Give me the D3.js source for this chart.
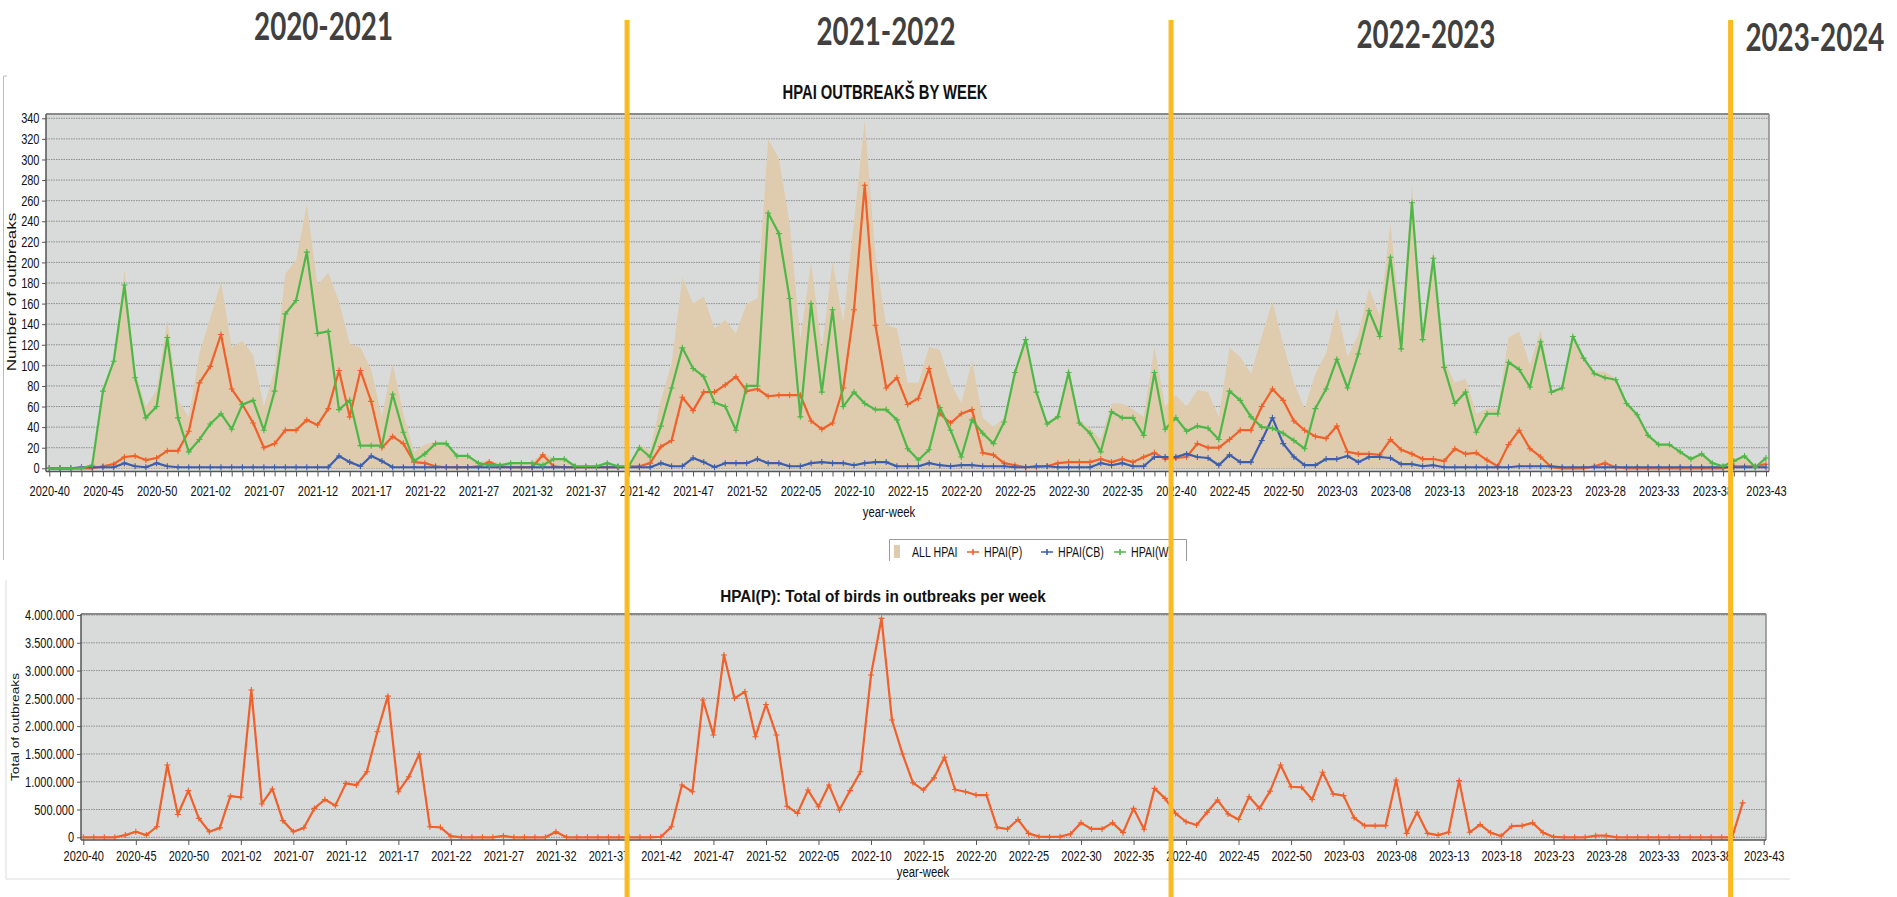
<!DOCTYPE html>
<html>
<head>
<meta charset="utf-8">
<title>HPAI outbreaks by week</title>
<script src="https://d3js.org/d3.v7.min.js"></script>
<style>
  body { margin: 0; background: #fff; }
  svg { display: block; }
</style>
</head>
<body>
<svg id="chart" width="1897" height="897"></svg>
<script>
'use strict';

// year, first week, last week (2020 has 53 ISO weeks)
var yearSegments = [[2020, 40, 53], [2021, 1, 52], [2022, 1, 52], [2023, 1, 43]];

var allHpai = [
  0,0,0,0,3,78,105,193,94,60,76,144,66,50,
  112,146,181,117,124,110,60,96,189,202,256,178,190,162,121,117,96,50,102,53,16,23,26,26,13,13,6,8,5,6,6,6,15,10,10,3,3,3,6,3,2,23,17,66,102,185,160,167,136,144,131,160,
  165,320,301,238,125,201,115,201,142,240,338,206,139,136,83,83,118,115,83,63,105,49,40,49,97,127,76,45,53,99,47,39,28,63,63,57,50,118,60,71,60,76,74,50,117,108,92,128,162,121,83,58,
  92,112,156,108,130,175,149,238,134,275,134,215,105,83,87,53,58,58,127,133,100,135,76,79,130,108,94,94,87,65,53,34,24,24,16,10,15,6,3,8,13,2,12
];
var hpaiP = [
  0,0,0,0,0,2,4,11,12,8,10,17,17,36,
  83,99,130,77,62,44,20,24,37,37,47,42,58,95,50,95,65,20,31,24,6,5,2,1,1,1,2,6,2,1,1,1,13,2,1,1,1,1,1,1,2,2,5,21,27,69,56,74,74,81,89,75,
  77,70,71,71,71,46,38,44,78,154,275,139,78,88,62,68,97,53,44,53,57,15,13,5,3,1,1,2,5,6,6,6,9,6,9,6,11,15,9,10,11,24,20,20,28,37,37,60,77,66,46,37,
  31,29,41,16,14,14,13,28,18,14,9,9,7,19,14,15,8,2,23,37,19,11,1,0,0,0,2,5,1,0,0,0,0,0,0,0,0,0,0,2,2,2,4
];
var hpaiCB = [
  0,0,0,1,1,1,1,5,2,1,5,2,1,1,
  1,1,1,1,1,1,1,1,1,1,1,1,1,12,6,2,12,7,1,1,1,1,1,1,1,1,1,1,1,1,1,1,1,1,1,1,1,1,1,1,1,1,1,5,2,2,10,6,1,5,5,5,
  9,5,5,2,2,5,6,5,5,3,5,6,6,2,2,2,5,3,2,3,3,2,2,2,1,1,2,2,1,1,1,1,5,3,5,2,2,11,11,11,14,11,10,3,13,6,6,27,49,24,11,3,
  3,9,9,12,6,11,11,10,4,4,2,3,1,1,1,1,1,1,1,2,2,2,2,1,1,1,1,1,1,1,1,1,1,1,1,1,1,1,1,1,1,1,1
];
var hpaiW = [
  0,0,0,0,3,75,104,178,88,49,60,127,49,16,
  28,43,53,38,62,66,37,75,150,163,210,131,133,57,66,22,22,22,72,35,7,14,24,24,12,12,5,3,3,5,5,5,3,9,9,2,2,2,5,2,2,20,11,41,78,117,97,89,64,60,37,80,
  80,248,228,165,50,160,74,154,60,74,63,57,57,47,19,8,18,59,37,11,47,34,24,45,93,125,74,43,50,93,44,34,16,55,49,49,32,93,38,49,36,41,39,28,75,66,50,40,39,34,27,19,
  58,77,106,78,111,153,128,205,116,258,125,204,98,63,74,35,53,53,103,96,79,123,74,78,128,107,92,88,86,63,52,32,23,23,16,9,14,5,2,7,12,1,10
];
var birdsP = [
  0,0,0,0,40000,100000,40000,190000,1300000,410000,840000,340000,100000,170000,
  740000,720000,2650000,600000,870000,300000,100000,170000,520000,680000,570000,970000,940000,1180000,1900000,2540000,820000,1090000,1500000,190000,180000,20000,0,0,0,0,25000,0,0,0,0,100000,0,0,0,0,0,0,0,0,0,10000,190000,940000,820000,2470000,1840000,3280000,2500000,2620000,1810000,2390000,
  1840000,560000,430000,850000,550000,940000,490000,840000,1180000,2920000,3940000,2110000,1500000,980000,850000,1070000,1440000,860000,820000,760000,760000,180000,150000,320000,70000,12000,6000,12000,60000,260000,150000,150000,260000,84000,520000,144000,880000,700000,430000,280000,220000,450000,670000,420000,320000,730000,520000,830000,1300000,910000,900000,680000,
  1170000,780000,750000,350000,210000,210000,210000,1030000,70000,450000,70000,40000,90000,1020000,90000,230000,84000,24000,200000,210000,260000,84000,6000,0,0,0,30000,30000,0,0,0,0,0,0,0,0,0,0,0,0,620000
];

var outbreakTicks = d3.range(0, 341, 20);
var birdTicks = [0, 500000, 1000000, 1500000, 2000000, 2500000, 3000000, 3500000, 4000000];
var seasonLabels = ['2020-2021', '2021-2022', '2022-2023', '2023-2024'];
// where the labels and the yellow season dividers sit, in top chart week units
var seasonLabelAt = [25.56, 77.98, 128.3, 164.56];
var seasonBreaks = [53.85, 104.55, 156.7];

var weeks = [];
yearSegments.forEach(function (s) {
  for (var w = s[1]; w <= s[2]; w++) weeks.push(s[0] + '-' + (w < 10 ? '0' + w : w));
});

var FONT = '"Liberation Sans", Arial, sans-serif';
var SQ = 0.76; // the source picture is squeezed horizontally
var GRID = '#8d8d8d', PLOT_BG = '#d9dbda', AXIS = '#555';

var series = [
  {name: 'HPAI(P)', values: hpaiP, color: '#f0602a'},
  {name: 'HPAI(CB)', values: hpaiCB, color: '#3b5eae'},
  {name: 'HPAI(W)', values: hpaiW, color: '#4db848'}
];

var svg = d3.select('#chart');
svg.append('rect').attr('width', 1897).attr('height', 897).attr('fill', '#fff');

function label(parent, s, x, y, size, o) {
  o = o || {};
  return parent.append('text')
    .attr('transform', 'translate(' + x + ',' + y + ') scale(' + (o.sx || SQ) + ',1)' + (o.rotate ? ' rotate(' + o.rotate + ')' : ''))
    .attr('text-anchor', o.anchor || 'middle')
    .style('font-family', o.family || FONT)
    .style('font-size', size + 'px')
    .style('font-weight', o.bold ? 'bold' : null)
    .attr('fill', o.color || '#111')
    .text(s);
}

function plusPath(px, py, r) {
  return 'M' + (px - r) + ',' + py + 'H' + (px + r) + 'M' + px + ',' + (py - r) + 'V' + (py + r);
}

function drawSeries(g, values, xs, ys, color, width) {
  g.append('path')
    .datum(values)
    .attr('fill', 'none')
    .attr('stroke', color)
    .attr('stroke-width', width)
    .attr('stroke-linejoin', 'round')
    .attr('d', d3.line().x(function (d, i) { return xs(i); }).y(function (d) { return ys(d); }));
  g.append('path')
    .attr('fill', 'none')
    .attr('stroke', color)
    .attr('stroke-width', 1.1)
    .attr('d', values.map(function (d, i) { return plusPath(xs(i), ys(d), 3); }).join(''));
}

function styleTicks(g) {
  g.select('.domain').remove();
  g.selectAll('.tick line').attr('stroke', AXIS);
  g.selectAll('.tick text')
    .style('font-family', FONT)
    .style('font-size', '14.5px')
    .attr('fill', '#111');
}

function plotFrame(g, box, ys, ticks) {
  g.append('rect')
    .attr('x', box.x0).attr('y', box.y0)
    .attr('width', box.x1 - box.x0).attr('height', box.y1 - box.y0)
    .attr('fill', PLOT_BG);
  g.selectAll('.grid').data(ticks).join('line')
    .attr('class', 'grid')
    .attr('x1', box.x0).attr('x2', box.x1)
    .attr('y1', function (d) { return ys(d); }).attr('y2', function (d) { return ys(d); })
    .attr('stroke', GRID).attr('stroke-width', 1).attr('stroke-dasharray', '1.5,1');
}

function plotBorder(g, box) {
  g.append('line').attr('x1', box.x0).attr('x2', box.x1).attr('y1', box.y0).attr('y2', box.y0)
    .attr('stroke', '#8a8a8a').attr('stroke-width', 2);
  g.append('line').attr('x1', box.x1).attr('x2', box.x1).attr('y1', box.y0).attr('y2', box.y1)
    .attr('stroke', '#8a8a8a').attr('stroke-width', 1.5);
  g.append('line').attr('x1', box.x0).attr('x2', box.x0).attr('y1', box.y0).attr('y2', box.y1)
    .attr('stroke', AXIS).attr('stroke-width', 1.5);
  g.append('line').attr('x1', box.x0).attr('x2', box.x1).attr('y1', box.y1).attr('y2', box.y1)
    .attr('stroke', AXIS).attr('stroke-width', 1.5);
}

// ---------- top chart: outbreaks by week ----------
var topBox = {x0: 46, x1: 1769, y0: 114, y1: 471.5};
var x1 = d3.scaleLinear().domain([0, weeks.length - 1]).range([49.3, 1766]);
var y1 = d3.scaleLinear().domain([0, 340]).range([468.3, 118.3]);
var gTop = svg.append('g');

// outer frame of the top chart
gTop.append('path').attr('d', 'M7,76H3.5V560').attr('fill', 'none').attr('stroke', '#bdbdbd');

plotFrame(gTop, topBox, y1, outbreakTicks);

gTop.append('path')
  .datum(allHpai)
  .attr('fill', '#dfccae')
  .attr('d', d3.area().x(function (d, i) { return x1(i); }).y0(y1(0)).y1(function (d) { return y1(d); }));

series.forEach(function (s) { drawSeries(gTop, s.values, x1, y1, s.color, 2.2); });

plotBorder(gTop, topBox);

var yAxis1 = gTop.append('g').attr('transform', 'translate(' + topBox.x0 + ',0)')
  .call(d3.axisLeft(y1).tickValues(outbreakTicks).tickSize(4).tickPadding(3));
styleTicks(yAxis1);
yAxis1.selectAll('.tick text').attr('x', -6.5 / SQ).attr('transform', 'scale(' + SQ + ',1)');

var xAxis1 = gTop.append('g').attr('transform', 'translate(0,' + topBox.y1 + ')')
  .call(d3.axisBottom(x1).tickValues(d3.range(weeks.length)).tickSize(5).tickPadding(9)
    .tickFormat(function (i) { return i % 5 === 0 ? weeks[i] : ''; }));
styleTicks(xAxis1);
xAxis1.selectAll('.tick text').attr('transform', 'scale(' + SQ + ',1)');

label(gTop, 'HPAI OUTBREAKŠ BY WEEK', 885, 98.5, 19.5, {bold: true});
label(gTop, 'Number of outbreaks', 16, 292, 17, {rotate: -90});
label(gTop, 'year-week', 889, 517, 15);

// legend
var lg = gTop.append('g');
lg.append('path').attr('d', 'M889.5,561V539.5H1186.5V561').attr('fill', 'none').attr('stroke', '#9a9a9a');
lg.append('rect').attr('x', 894).attr('y', 545).attr('width', 6).attr('height', 13).attr('fill', '#dfccae');
label(lg, 'ALL HPAI', 912, 557, 14, {anchor: 'start'});
var legendX = [973, 1047, 1120];
series.forEach(function (s, k) {
  var cx = legendX[k];
  lg.append('path').attr('d', 'M' + (cx - 6) + ',552H' + (cx + 6) + plusPath(cx, 552, 3).replace('M', 'M'))
    .attr('fill', 'none').attr('stroke', s.color).attr('stroke-width', 1.6);
  label(lg, s.name, cx + 11, 557, 14, {anchor: 'start'});
});

// ---------- bottom chart: birds in HPAI(P) outbreaks ----------
var botBox = {x0: 81, x1: 1766, y0: 614, y1: 840};
var x2 = d3.scaleLinear().domain([0, weeks.length - 1]).range([83.3, 1763.7]);
var y2 = d3.scaleLinear().domain([0, 4000000]).range([837.3, 615]);
var gBot = svg.append('g');

gBot.append('path').attr('d', 'M6,580V879H1790').attr('fill', 'none').attr('stroke', '#dcdcdc');

plotFrame(gBot, botBox, y2, birdTicks);
drawSeries(gBot, birdsP, x2, y2, '#f0602a', 2.2);
plotBorder(gBot, botBox);

var yAxis2 = gBot.append('g').attr('transform', 'translate(' + botBox.x0 + ',0)')
  .call(d3.axisLeft(y2).tickValues(birdTicks).tickSize(4).tickPadding(3)
    .tickFormat(function (d) { return d3.format(',')(d).replace(/,/g, '.'); }));
styleTicks(yAxis2);
yAxis2.selectAll('.tick text').attr('x', -7 / SQ).attr('transform', 'scale(' + SQ + ',1)');

var xAxis2 = gBot.append('g').attr('transform', 'translate(0,' + botBox.y1 + ')')
  .call(d3.axisBottom(x2).tickValues(d3.range(0, weeks.length, 5)).tickSize(5).tickPadding(5.6)
    .tickFormat(function (i) { return weeks[i]; }));
styleTicks(xAxis2);
xAxis2.selectAll('.tick text').attr('transform', 'scale(' + SQ + ',1)');

label(gBot, 'HPAI(P): Total of birds in outbreaks per week', 883, 602, 17, {bold: true, sx: 0.9});
label(gBot, 'Total of outbreaks', 19, 727, 13.7, {rotate: -90});
label(gBot, 'year-week', 923, 877, 15);

// ---------- season headers and dividers ----------
var headerBaseline = [40, 45, 48, 51];
seasonLabels.forEach(function (s, k) {
  label(svg, s, x1(seasonLabelAt[k]), headerBaseline[k], 38, {bold: true, family: 'Lato, "Open Sans", sans-serif', sx: 0.73, color: '#404040'});
});
svg.selectAll('.season-break').data(seasonBreaks).join('line')
  .attr('class', 'season-break')
  .attr('x1', function (d) { return x1(d); }).attr('x2', function (d) { return x1(d); })
  .attr('y1', 20).attr('y2', 897)
  .attr('stroke', '#fbba21').attr('stroke-width', 5);
</script>
</body>
</html>
